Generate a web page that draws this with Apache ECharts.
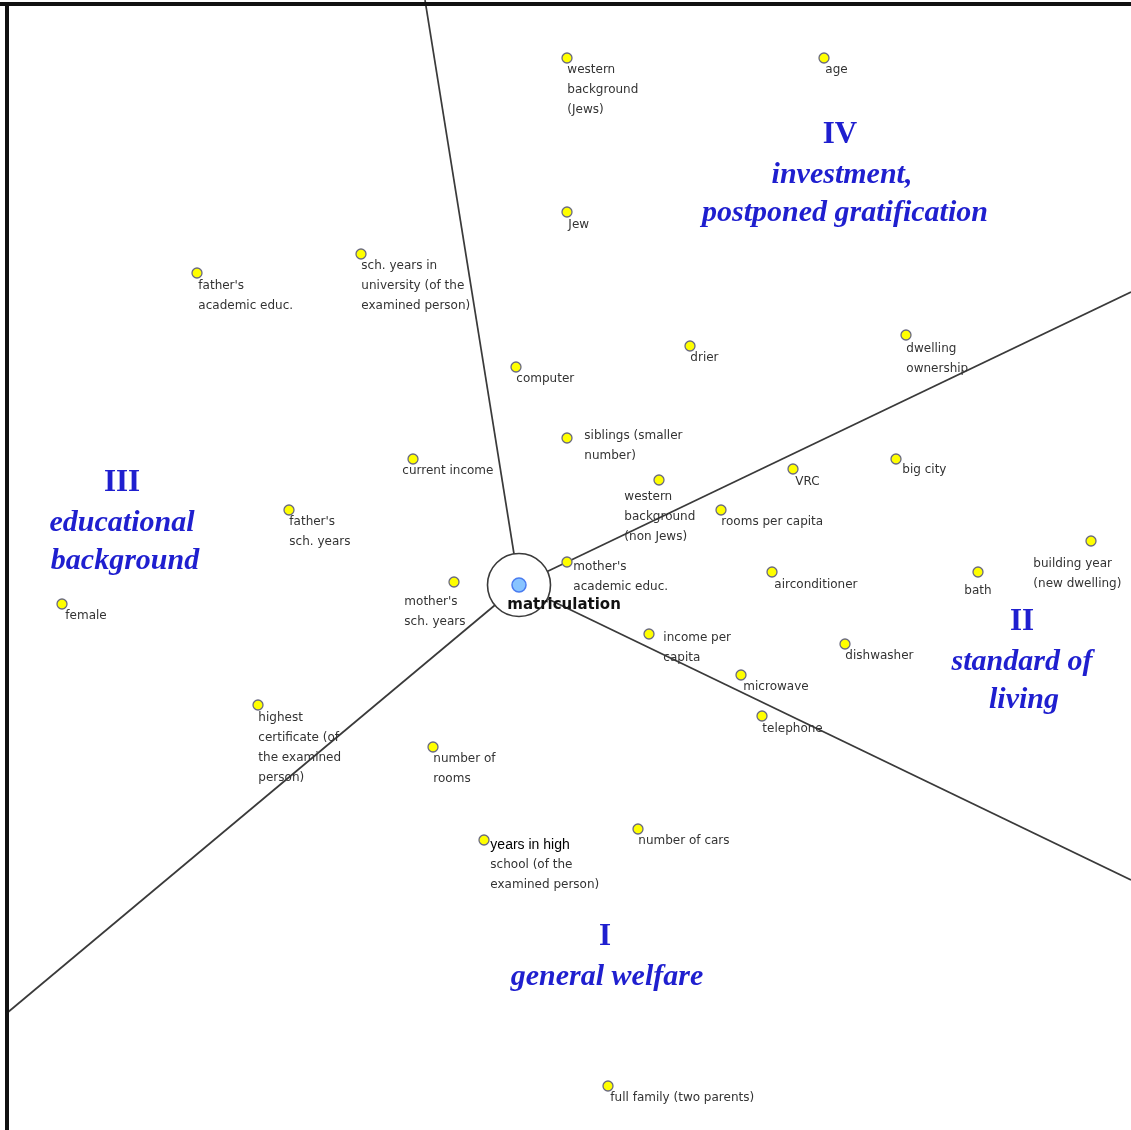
<!DOCTYPE html>
<html>
<head>
<meta charset="utf-8">
<script src="https://cdn.jsdelivr.net/npm/echarts@6/dist/echarts.min.js"></script>
<style>
  html, body { margin: 0; padding: 0; background: #fff; }
  #mapView { width: 1131px; height: 1130px; }
</style>
</head>
<body>
<div id="mapView"></div>
<script>
// variables (SSA map, pixel-like units)
var pointNames = [
  "western\nbackground\n(Jews)", "age", "Jew", "father's\nacademic educ.",
  "sch. years in\nuniversity (of the\nexamined person)", "computer", "drier",
  "dwelling\nownership", "siblings (smaller\nnumber)", "current income",
  "western\nbackground\n(non Jews)", "VRC", "big city", "rooms per capita",
  "father's\nsch. years", "building year\n(new dwelling)", "bath", "airconditioner",
  "mother's\nacademic educ.", "mother's\nsch. years", "female", "income per\ncapita",
  "dishwasher", "microwave", "telephone", "highest\ncertificate (of\nthe examined\nperson)",
  "number of\nrooms", "years in high\nschool (of the\nexamined person)", "number of cars",
  "full family (two parents)"
];
var pointX = [567, 824, 567, 197, 361, 516, 690, 906, 567, 413, 659, 793, 896, 721, 289,
  1091, 978, 772, 567, 454, 62, 649, 845, 741, 762, 258, 433, 484, 638, 608];
var pointY = [58, 58, 212, 273, 254, 367, 346, 335, 438, 459, 480, 469, 459, 510, 510,
  541, 572, 572, 562, 582, 604, 634, 644, 675, 716, 705, 747, 840, 829, 1086];

// centre variable and the four region partition lines
var centerName = "matriculation";
var center = [519, 585];
var spokeEnds = [[425, 0], [1131, 292], [1131, 880], [7, 1013]];

var regionNumerals = ["I", "II", "III", "IV"];
var regionNames = [
  ["general welfare"],
  ["standard of", "living"],
  ["educational", "background"],
  ["investment,", "postponed gratification"]
];

// label placement (offset from symbol box), default below-right of the dot
var labelOffsets = {
  "age": [7, 8], "Jew": [7, 9], "father's\nacademic educ.": [7, 9],
  "siblings (smaller\nnumber)": [23, -6], "current income": [-5, 8],
  "western\nbackground\n(non Jews)": [-29, 13], "VRC": [8, 9], "big city": [12, 7],
  "building year\n(new dwelling)": [-52, 19], "bath": [-8, 15], "airconditioner": [8, 9],
  "mother's\nacademic educ.": [12, 1], "mother's\nsch. years": [-44, 16], "female": [9, 8],
  "income per\ncapita": [20, 0], "microwave": [8, 8], "telephone": [6, 9],
  "highest\ncertificate (of\nthe examined\nperson)": [6, 9],
  "years in high\nschool (of the\nexamined person)": [12, 1], "full family (two parents)": [8, 8],
  "dwelling\nownership": [6, 10]
};
var regionLayout = [
  [605, 937, [607]],
  [1022, 622, [1022, 1024]],
  [122, 483, [122, 125]],
  [840, 135, [842, 845]]
];

var BLUE = '#1f1fcf';

function buildPoints() {
  var arr = [];
  for (var i = 0, j = pointNames.length; i < j; i++) {
    var off = labelOffsets[pointNames[i]] || [6, 8];
    var item = {
      name: pointNames[i],
      value: [pointX[i], pointY[i]],
      label: { position: off }
    };
    if (pointNames[i].indexOf("years in high") === 0) {
      item.label.formatter = function(p) {
        var parts = p.name.split("\n");
        return "{hi|" + parts[0] + "}\n" + parts.slice(1).join("\n");
      };
    }
    arr.push(item);
  }
  return arr;
}

function buildSpokes() {
  var arr = [];
  for (var i = 0; i < spokeEnds.length; i++) {
    arr.push({ coords: [center, spokeEnds[i]] });
  }
  return arr;
}

function buildRegionText() {
  var els = [];
  for (var i = 0; i < regionNumerals.length; i++) {
    var lay = regionLayout[i];
    els.push({
      type: 'text', x: lay[0], y: lay[1], z: 100,
      style: {
        text: regionNumerals[i], fill: BLUE,
        font: 'bold 31px "Liberation Serif"',
        align: 'center', verticalAlign: 'middle'
      }
    });
    for (var k = 0; k < regionNames[i].length; k++) {
      els.push({
        type: 'text', x: lay[2][k], y: lay[1] + 40 * (k + 1) - (k > 0 ? 2 : 0), z: 100,
        style: {
          text: regionNames[i][k], fill: BLUE,
          font: 'italic bold 30px "Liberation Serif"',
          align: 'center', verticalAlign: 'middle'
        }
      });
    }
  }
  // frame on top and left
  els.push({ type: 'rect', shape: { x: 0, y: 2, width: 1131, height: 4 }, style: { fill: '#111' }, z: 120 });
  els.push({ type: 'rect', shape: { x: 5, y: 2, width: 4, height: 1128 }, style: { fill: '#111' }, z: 120 });
  return els;
}

var myChart = echarts.init(document.getElementById('mapView'));
var option = {
  backgroundColor: '#ffffff',
  animation: false,
  grid: { left: 0, right: 0, top: 0, bottom: 0 },
  xAxis: { type: 'value', min: 0, max: 1131, show: false },
  yAxis: { type: 'value', min: 0, max: 1130, inverse: true, show: false },
  graphic: buildRegionText(),
  series: [{
    type: 'lines',
    coordinateSystem: 'cartesian2d',
    z: 1,
    lineStyle: { color: '#3a3a3a', width: 1.7, opacity: 1 },
    data: buildSpokes()
  }, {
    type: 'scatter',
    z: 3,
    symbol: 'circle',
    symbolSize: 10,
    itemStyle: { color: '#ffff00', borderColor: '#6a6a80', borderWidth: 1.3, opacity: 1 },
    label: {
      show: true,
      formatter: '{b}',
      align: 'left',
      verticalAlign: 'top',
      fontFamily: '"DejaVu Sans", sans-serif',
      fontSize: 12,
      lineHeight: 20,
      color: '#333',
      rich: {
        hi: { fontFamily: '"Liberation Sans", Arial, sans-serif', fontSize: 14, color: '#000', lineHeight: 20 }
      }
    },
    data: buildPoints()
  }, {
    type: 'scatter',
    z: 5,
    silent: true,
    itemStyle: { opacity: 1 },
    data: [{
      name: '',
      value: center,
      symbolSize: 63,
      itemStyle: { color: '#ffffff', borderColor: '#3a3a3a', borderWidth: 1.6, opacity: 1 }
    }, {
      name: centerName,
      value: center,
      symbolSize: 14,
      itemStyle: { color: '#88c4ff', borderColor: '#4a7cf0', borderWidth: 1.5, opacity: 1 },
      label: {
        show: true,
        position: [-4, 20],
        align: 'left',
        verticalAlign: 'top',
        formatter: '{b}',
        fontFamily: '"DejaVu Sans", sans-serif',
        fontWeight: 'bold',
        fontSize: 15,
        color: '#111'
      }
    }]
  }]
};
myChart.setOption(option);
window.onresize = function() { myChart.resize(); };
</script>
</body>
</html>
